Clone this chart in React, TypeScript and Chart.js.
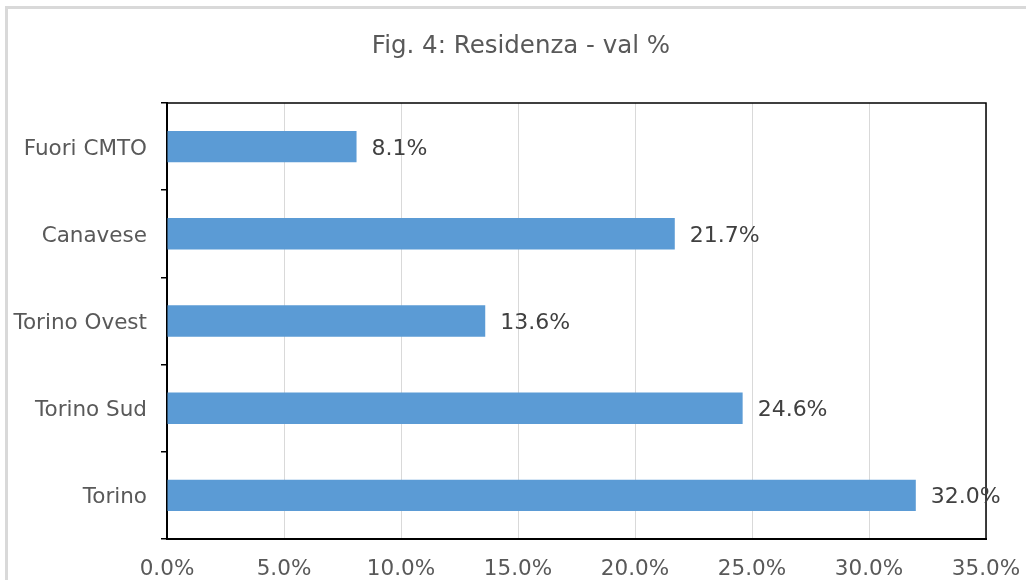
import React, { useEffect, useRef } from "react";
import { Chart, registerables } from "chart.js";

Chart.register(...registerables);

const titleText = "Fig. 4: Residenza - val %";
const categories = ["Fuori CMTO", "Canavese", "Torino Ovest", "Torino Sud", "Torino"];
const values = [8.1, 21.7, 13.6, 24.6, 32.0];
const xMin = 0;
const xMax = 35;
const xStep = 5;

const FONT = "'DejaVu Sans', Verdana, sans-serif";

const framePlugin = {
  id: "framePlugin",
  beforeDraw(chart: any) {
    const ctx = chart.ctx;
    ctx.save();
    ctx.fillStyle = "#ffffff";
    ctx.fillRect(0, 0, chart.width, chart.height);
    ctx.strokeStyle = "#d9d9d9";
    ctx.lineWidth = 3;
    ctx.strokeRect(6.5, 7.5, chart.width + 100, chart.height + 100);
    // title
    ctx.fillStyle = "#595959";
    ctx.font = `24.5px ${FONT}`;
    ctx.textAlign = "center";
    ctx.textBaseline = "alphabetic";
    ctx.fillText(titleText, 521, 53);
    ctx.restore();
  },
  afterDraw(chart: any) {
    const ctx = chart.ctx;
    const a = chart.chartArea;
    ctx.save();
    ctx.strokeStyle = "#000000";
    ctx.lineWidth = 1.5;
    ctx.beginPath();
    ctx.moveTo(a.left, a.top);
    ctx.lineTo(a.right, a.top);
    ctx.lineTo(a.right, a.bottom);
    ctx.stroke();
    // data labels
    const meta = chart.getDatasetMeta(0);
    ctx.fillStyle = "#404040";
    ctx.font = `22px ${FONT}`;
    ctx.textAlign = "left";
    ctx.textBaseline = "alphabetic";
    meta.data.forEach((bar: any, i: number) => {
      const v = chart.data.datasets[0].data[i] as number;
      ctx.fillText(v.toFixed(1) + "%", bar.x + 15, bar.y + 8);
    });
    ctx.restore();
  },
};

export default function App() {
  const ref = useRef<HTMLCanvasElement | null>(null);
  useEffect(() => {
    if (!ref.current) return;
    const chart = new Chart(ref.current, {
      type: "bar",
      data: {
        labels: categories,
        datasets: [
          {
            data: values,
            backgroundColor: "#5b9bd5",
            borderWidth: 0,
            barPercentage: 0.36,
            categoryPercentage: 1,
          },
        ],
      },
      options: {
        indexAxis: "y",
        animation: false,
        responsive: true,
        maintainAspectRatio: false,
        layout: { padding: { left: 0, top: 103, right: 40, bottom: 0 } },
        plugins: {
          legend: { display: false },
          title: { display: false },
          tooltip: { enabled: false },
        },
        scales: {
          x: {
            min: xMin,
            max: xMax,
            afterFit: (s: any) => {
              s.height = 41;
              s.paddingLeft = 0;
              s.paddingRight = 0;
            },
            ticks: {
              stepSize: xStep,
              color: "#595959",
              font: { family: FONT, size: 21.5 },
              padding: 18,
              callback: (v: any) => Number(v).toFixed(1) + "%",
            },
            grid: {
              color: "#d9d9d9",
              lineWidth: 1,
              drawTicks: false,
            },
            border: { display: true, color: "#000000", width: 2 },
          },
          y: {
            afterFit: (s: any) => {
              s.width = 167;
              s.paddingTop = 0;
              s.paddingBottom = 0;
            },
            ticks: {
              color: "#595959",
              font: { family: FONT, size: 21.5 },
              padding: 14,
              labelOffset: 2.5,
            },
            grid: {
              offset: true,
              drawOnChartArea: false,
              drawTicks: true,
              tickLength: 6,
              color: "#000000",
              lineWidth: 1.5,
            },
            border: { display: true, color: "#000000", width: 2 },
          },
        },
      },
      plugins: [framePlugin],
    });
    return () => chart.destroy();
  }, []);
  return (
    <div style={{ position: "fixed", left: 0, top: 0, width: 1026, height: 580 }}>
      <canvas ref={ref} />
    </div>
  );
}
